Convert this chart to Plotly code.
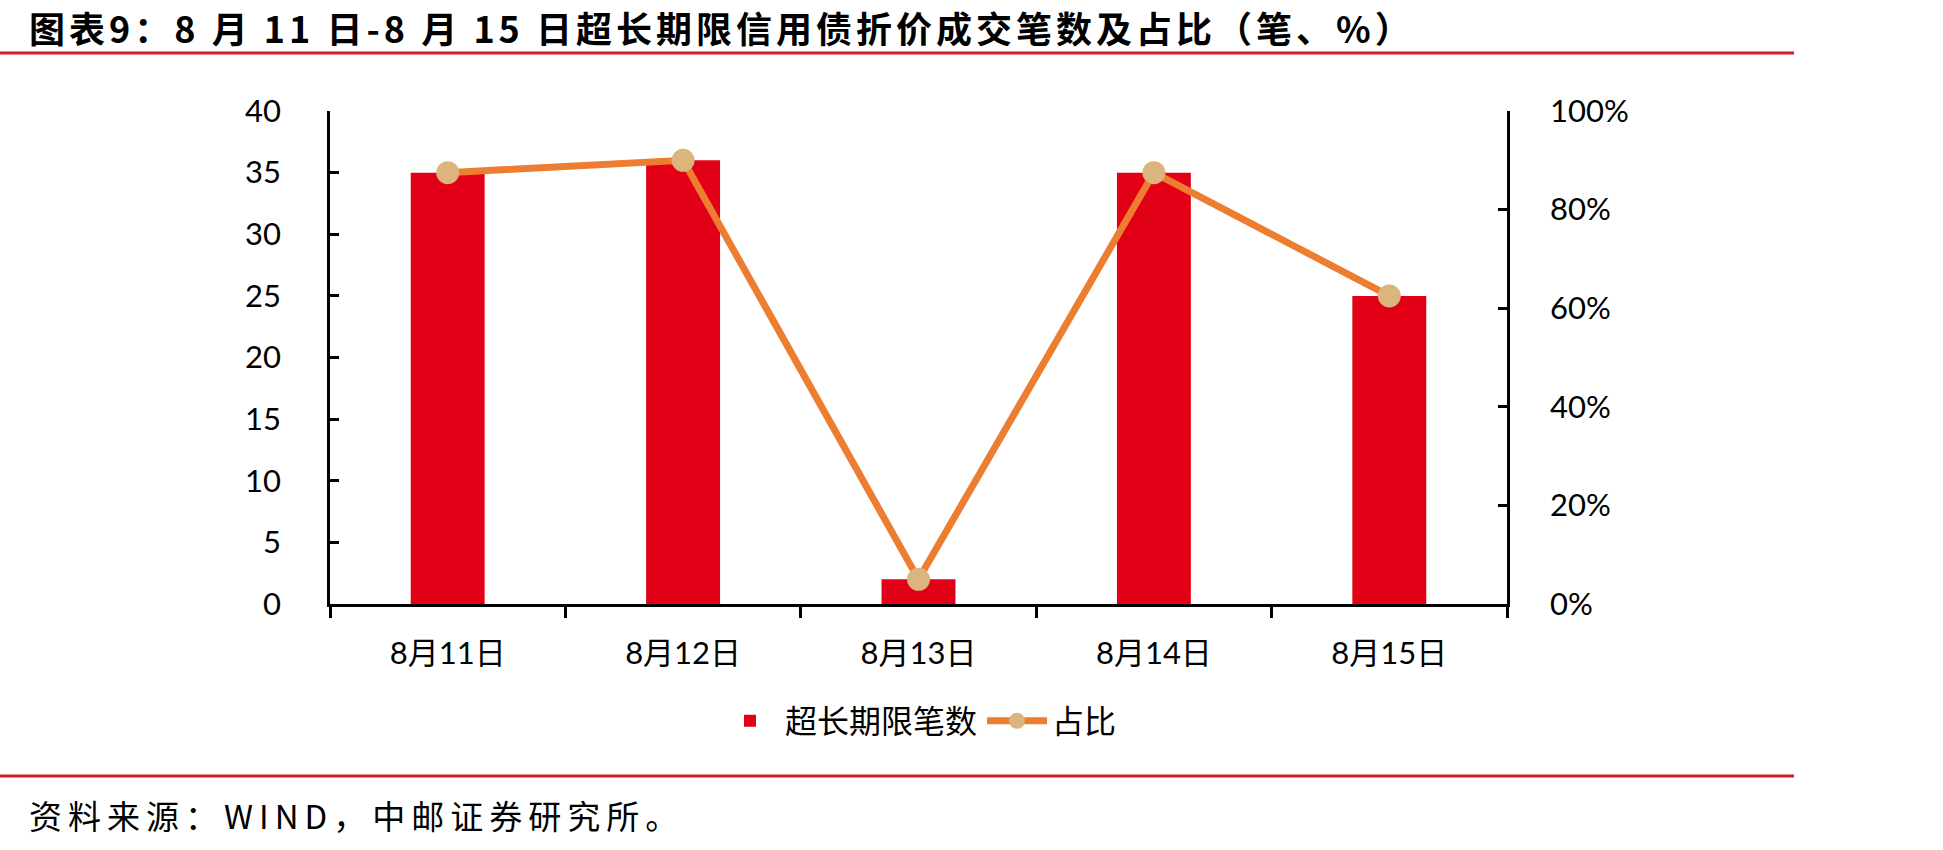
import plotly.graph_objects as go

categories = ["8月11日", "8月12日", "8月13日", "8月14日", "8月15日"]
counts = [35, 36, 2, 35, 25]
shares = [0.875, 0.90, 0.05, 0.875, 0.625]
left_ticks = [0, 5, 10, 15, 20, 25, 30, 35, 40]
right_ticks = [0, 0.2, 0.4, 0.6, 0.8, 1.0]

W, H = 1943, 850
L, R, T, B = 330, 1507, 111, 604

def px(xp):
    return (xp - L) / (R - L)

def py(yp):
    return (B - yp) / (B - T)

TICKFONT = dict(family="Lato, Noto Sans CJK SC", size=31, color="#000000")

fig = go.Figure()
fig.add_trace(go.Bar(
    x=categories, y=counts, name="超长期限笔数",
    marker=dict(color="#E10016", line=dict(width=0)),
    yaxis="y",
))
fig.add_trace(go.Scatter(
    x=categories, y=shares, name="占比", mode="lines+markers",
    line=dict(color="#ED7D31", width=7),
    marker=dict(color="#DBB47E", size=23, line=dict(width=0)),
    yaxis="y2",
))

fig.update_layout(
    width=W, height=H,
    margin=dict(l=L, r=W - R, t=T, b=H - B, autoexpand=False),
    paper_bgcolor="white", plot_bgcolor="white",
    bargap=0.686,
    showlegend=True,
    legend=dict(
        orientation="h", x=0.5, xanchor="center", y=py(721), yanchor="middle",
        font=dict(family="Noto Sans CJK SC", size=32, color="#000000"),
        itemwidth=60, traceorder="normal",
    ),
    xaxis=dict(
        type="category", showline=True, linecolor="#000000", linewidth=2.5,
        ticks="outside", ticklen=11, tickwidth=2.5, tickcolor="#000000",
        tickson="boundaries", showgrid=False, zeroline=False,
        tickfont=TICKFONT, ticklabelstandoff=20,
    ),
    yaxis=dict(
        range=[0, 40], tickvals=left_ticks, showline=True, linecolor="#000000",
        linewidth=2.5, ticks="inside", ticklen=9, tickwidth=2.5,
        tickcolor="#000000", showgrid=False, zeroline=False,
        tickfont=TICKFONT, ticklabelstandoff=40,
    ),
    yaxis2=dict(
        range=[0, 1], tickvals=right_ticks, tickformat=".0%", overlaying="y",
        side="right", showline=True, linecolor="#000000", linewidth=2.5,
        ticks="inside", ticklen=9, tickwidth=2.5, tickcolor="#000000",
        showgrid=False, zeroline=False, tickfont=TICKFONT,
        ticklabelstandoff=34,
    ),
    shapes=[
        dict(type="line", xref="paper", yref="paper", x0=px(0), x1=px(1794),
             y0=py(53), y1=py(53), line=dict(color="#D0202A", width=3)),
        dict(type="line", xref="paper", yref="paper", x0=px(0), x1=px(1794),
             y0=py(776), y1=py(776), line=dict(color="#D0202A", width=3)),
    ],
    annotations=[
        dict(text="<span style='letter-spacing:4px'><b>图表9：8 月 11 日-8 月 15 日超长期限信用债折价成交笔数及占比（笔、%）</b></span>",
             xref="paper", yref="paper", x=px(27), y=py(27), xanchor="left",
             yanchor="middle", showarrow=False,
             font=dict(family="Noto Sans CJK SC", size=36, color="#000000")),
        dict(text="<span style='letter-spacing:6px'>资料来源：WIND，中邮证券研究所。</span>",
             xref="paper", yref="paper", x=px(27), y=py(815), xanchor="left",
             yanchor="middle", showarrow=False,
             font=dict(family="Noto Sans CJK SC", size=33, color="#000000")),
    ],
)

fig.write_html("out.html")
